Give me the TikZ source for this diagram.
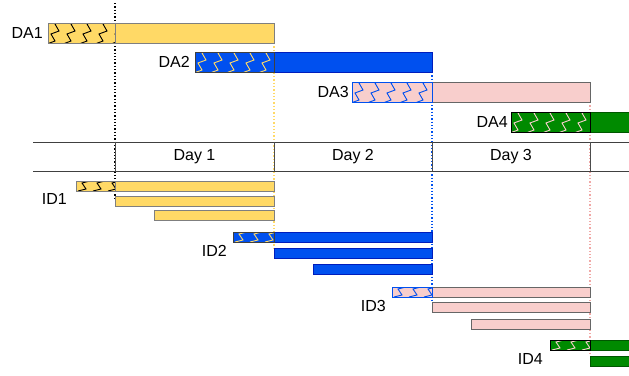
\documentclass[tikz,border=0pt]{standalone}
\usepackage{fontspec}
\setmainfont{Liberation Sans}
\definecolor{yel}{HTML}{FFD966}
\definecolor{blu}{HTML}{0050EF}
\definecolor{bluD}{HTML}{001DBC}
\definecolor{pnk}{HTML}{F8CECC}
\definecolor{pnkD}{HTML}{F0A8A6}
\definecolor{grn}{HTML}{008A00}
\definecolor{grnD}{HTML}{005700}
\definecolor{gry}{HTML}{7F7F7F}
\definecolor{axis}{HTML}{404040}
\newcommand\zzbig[8]{%
  \node[bar, fill=#6, minimum width=#4, minimum height=#5] (#1) at (#2,#3) {};
  \begin{scope}
    \clip (#1.north west) rectangle (#1.south east);
    \foreach \k in {0,...,5}
      \draw[#8, line width=0.9] ({#2+\k*16-1},{#3+#5+1}) -- ++(8,-3) -- ++(-4,-7) -- ++(8,-3) -- ++(-4,-7) -- ++(8,-3);
  \end{scope}
  \node[bar, draw=#7, minimum width=#4, minimum height=#5] at (#2,#3) {};
}
\newcommand\zzsmall[8]{%
  \node[bar, fill=#6, minimum width=#4, minimum height=#5] (#1) at (#2,#3) {};
  \begin{scope}
    \clip (#1.north west) rectangle (#1.south east);
    \foreach \k in {0,1,2}
      \draw[#8, line width=0.9] ({#2+\k*15+2},{#3+#5}) -- ++(8,-2) -- ++(-4,-6) -- ++(8,-2);
  \end{scope}
  \node[bar, draw=#7, minimum width=#4, minimum height=#5] at (#2,#3) {};
}
\begin{document}
\begin{tikzpicture}[x=1pt,y=-1pt,
  font=\fontsize{16}{18}\selectfont,
  bar/.style={inner sep=0pt, outer sep=0pt, anchor=north west, line width=0.9pt},
  lbl/.style={inner sep=0pt, anchor=east},
  vdot/.style={dotted, line width=1.3pt},
  ax/.style={axis, line width=0.9pt}]
\useasboundingbox (0,0) rectangle (629,375);

% dotted guide lines (behind bars)
\coordinate (t1) at (115,3);   \coordinate (b1) at (115,198);
\coordinate (t2) at (274,43);  \coordinate (b2) at (274,249);
\coordinate (t3) at (432,72);  \coordinate (b3) at (432,302);
\coordinate (t4) at (590,102); \coordinate (b4) at (590,356);
\draw[vdot, black] (t1) -- (b1);
\draw[vdot, yel] (t2) -- (b2);
\draw[vdot, blu] (t3) -- (b3);
\draw[vdot, pnkD] (t4) -- (b4);

% timeline
\coordinate (l1) at (33,142); \coordinate (r1) at (629,142);
\coordinate (l2) at (33,171); \coordinate (r2) at (629,171);
\draw[ax] (l1) -- (r1);
\draw[ax] (l2) -- (r2);
\foreach \x/\n in {115/a,274/b,432/c,590/d} {
  \coordinate (tk\n1) at (\x,142); \coordinate (tk\n2) at (\x,171);
  \draw[ax, gry!60!black] (tk\n1) -- (tk\n2);
}
\node (day1) at (194.5,156.5) {Day 1};
\node (day2) at (353,156.5) {Day 2};
\node (day3) at (511,156.5) {Day 3};

% DA rows
\zzbig{da1h}{48}{23}{67}{20}{yel}{gry}{black}
\node[bar, fill=yel, draw=gry, minimum width=159, minimum height=20] (da1) at (115,23) {};
\node[lbl] (da1l) at (43,33) {DA1};

\node[bar, fill=blu, draw=bluD, minimum width=158, minimum height=20] (da2) at (274,52) {};
\zzbig{da2h}{195}{52}{79}{20}{blu}{axis}{yel}
\node[lbl] (da2l) at (190,62) {DA2};

\node[bar, fill=pnk, draw=axis!80, minimum width=158, minimum height=20] (da3) at (432,82) {};
\zzbig{da3h}{352}{82}{80}{20}{pnk}{blu}{blu}
\node[lbl] (da3l) at (349,92) {DA3};

\node[bar, fill=grn, draw=grnD, minimum width=45, minimum height=20] (da4) at (590,112) {};
\zzbig{da4h}{511}{112}{79}{20}{grn}{black}{pnk}
\node[lbl] (da4l) at (508,122) {DA4};

% ID1
\zzsmall{id1h}{76}{181}{39}{10}{yel}{gry}{black}
\node[bar, fill=yel, draw=gry, minimum width=159, minimum height=10] (id1a) at (115,181) {};
\node[bar, fill=yel, draw=gry, minimum width=159, minimum height=10] (id1b) at (115,196) {};
\node[bar, fill=yel, draw=gry, minimum width=120, minimum height=10] (id1c) at (154,210) {};
\node[lbl] (id1l) at (67,199) {ID1};

% ID2
\node[bar, fill=blu, draw=bluD, minimum width=158, minimum height=10] (id2a) at (274,232) {};
\zzsmall{id2h}{233}{232}{41}{10}{blu}{axis}{yel}
\node[bar, fill=blu, draw=bluD, minimum width=158, minimum height=10] (id2b) at (274,248) {};
\node[bar, fill=blu, draw=bluD, minimum width=119, minimum height=10] (id2c) at (313,264) {};
\node[lbl] (id2l) at (227,251) {ID2};

% ID3
\node[bar, fill=pnk, draw=axis!80, minimum width=158, minimum height=10] (id3a) at (432,287) {};
\zzsmall{id3h}{392}{287}{40}{10}{pnk}{blu}{blu}
\node[bar, fill=pnk, draw=axis!80, minimum width=158, minimum height=10] (id3b) at (432,302) {};
\node[bar, fill=pnk, draw=axis!80, minimum width=119, minimum height=10] (id3c) at (471,319) {};
\node[lbl] (id3l) at (386,306) {ID3};

% ID4
\node[bar, fill=grn, draw=grnD, minimum width=45, minimum height=10] (id4a) at (590,340) {};
\zzsmall{id4h}{550}{340}{40}{10}{grn}{black}{pnk}
\node[bar, fill=grn, draw=grnD, minimum width=45, minimum height=10] (id4b) at (590,356) {};
\node[lbl] (id4l) at (543,359) {ID4};
\end{tikzpicture}
\end{document}
